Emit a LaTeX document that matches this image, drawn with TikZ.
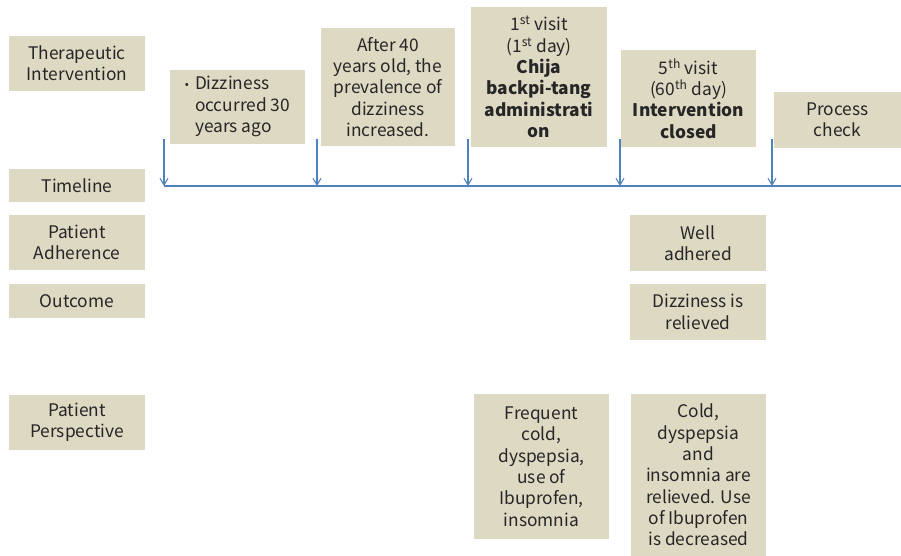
\documentclass[tikz,border=0pt]{standalone}
\usepackage{fontspec}
\setmainfont{Noto Sans CJK KR}
\usetikzlibrary{arrows.meta}

\definecolor{boxtan}{HTML}{DDD9C3}
\definecolor{lineblue}{HTML}{4F81BD}

\tikzset{
  box/.style={fill=boxtan, inner sep=0pt, align=center,
    font=\fontsize{13}{16}\selectfont, text=black!85},
  lbl/.style={box, minimum width=102pt},
  tick/.style={lineblue, line width=0.8pt, -{Straight Barb[length=5pt,width=6pt]}},
}

\begin{document}
\begin{tikzpicture}[x=0.75pt,y=0.75pt,yscale=-1,xscale=1]
\useasboundingbox (0,0) rectangle (901,556);

% Row labels
\node [lbl, minimum height=41.25pt] (ther) at (77,63.5) {Therapeutic\\Intervention};
\node [lbl, minimum height=24.75pt] (time) at (77,185.5) {Timeline};
\node [lbl, minimum height=41.25pt] (adh) at (77,242.5) {Patient\\Adherence};
\node [lbl, minimum height=25.5pt] (outc) at (77,301) {Outcome};
\node [lbl, minimum height=41.25pt] (persp) at (77,422.5) {Patient\\Perspective};

% Therapeutic intervention boxes
\node [box, minimum width=101.25pt, minimum height=55.5pt] (dizz) at (237.5,107)
  {\begin{tabular}{@{}l@{\hspace{0.35em}}l@{}}\raisebox{0.15ex}{\small •} & Dizziness\\ & occurred 30\\ & years ago\end{tabular}};
\node [box, minimum width=100.5pt, minimum height=88.5pt] (age40) at (388,87)
  {After 40\\years old, the\\prevalence of\\dizziness\\increased.};
\node [box, minimum width=102pt, minimum height=105pt] (visit1) at (539,77)
  {1\textsuperscript{st} visit\\(1\textsuperscript{st} day)\\\textbf{Chija}\\\textbf{backpi-tang}\\\textbf{administrati}\\\textbf{on}};
\node [box, minimum width=101.25pt, minimum height=72.75pt] (visit5) at (688.5,98.5)
  {5\textsuperscript{th} visit\\(60\textsuperscript{th} day)\\\textbf{Intervention}\\\textbf{closed}};
\node [box, minimum width=95.25pt, minimum height=42pt] (check) at (837.5,120)
  {Process\\check};

% Timeline
\coordinate (tl0) at (164,186);
\coordinate (tl1) at (901,186);
\draw [lineblue, line width=1.5pt] (tl0) -- (tl1);

\coordinate (a1) at (164,139);
\coordinate (a2) at (317,139);
\coordinate (a3) at (468,139);
\coordinate (a4) at (620,139);
\coordinate (a5) at (772,139);
\foreach \a in {a1,a2,a3,a4,a5}
  \draw [tick] (\a) -- (\a |- tl0);

% Adherence, outcome
\node [box, minimum width=102pt, minimum height=42pt] (well) at (698,243) {Well\\adhered};
\node [box, minimum width=102pt, minimum height=42pt] (relief) at (698,312) {Dizziness is\\relieved};

% Patient perspective
\node [box, minimum width=101.25pt, minimum height=108.75pt] (freq) at (541.5,466.5)
  {Frequent\\cold,\\dyspepsia,\\use of\\Ibuprofen,\\insomnia};
\node [box, minimum width=101.25pt, minimum height=121.5pt] (cold) at (698.5,475)
  {Cold,\\dyspepsia\\and\\insomnia are\\relieved. Use\\of Ibuprofen\\is decreased};

\end{tikzpicture}
\end{document}
